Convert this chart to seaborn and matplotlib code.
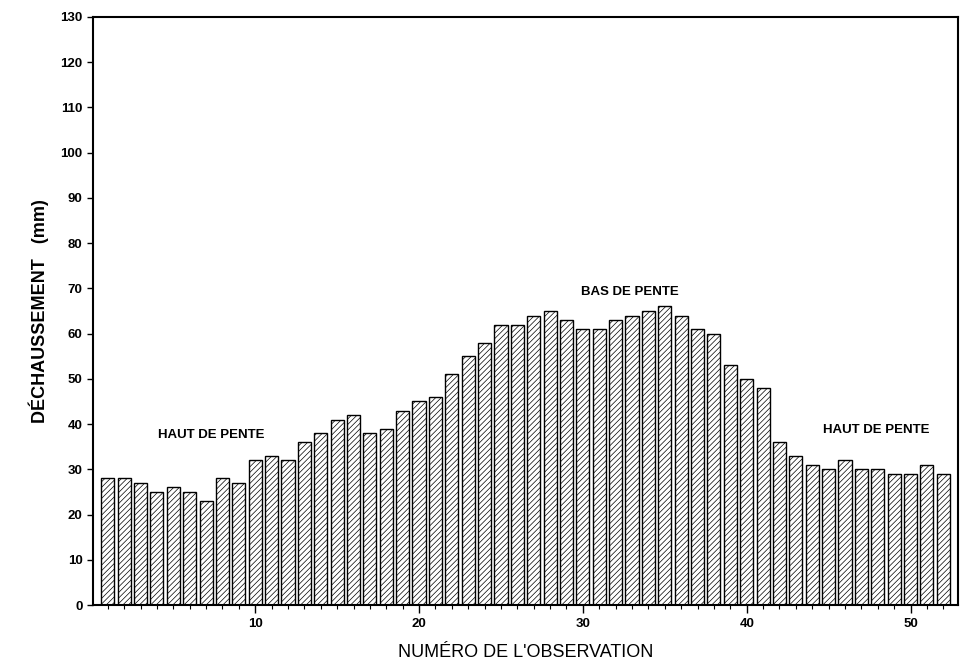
import matplotlib
matplotlib.use("Agg")
import matplotlib.pyplot as plt
import numpy as np
import seaborn as sns
from matplotlib.ticker import MultipleLocator

# numéro de l'observation et déchaussement (mm)
observations = list(range(1, 53))
dechaussement = [28, 28, 27, 25, 26, 25, 23, 28, 27, 32,
                 33, 32, 36, 38, 41, 42, 38, 39, 43, 45,
                 46, 51, 55, 58, 62, 62, 64, 65, 63, 61,
                 61, 63, 64, 65, 66, 64, 61, 60, 53, 50,
                 48, 36, 33, 31, 30, 32, 30, 30, 29, 29,
                 31, 29]

sns.set_style("ticks")
plt.rcParams['font.family'] = ['Liberation Sans', 'DejaVu Sans']
plt.rcParams['hatch.linewidth'] = 0.5
for k in ['text.color', 'axes.labelcolor', 'xtick.color', 'ytick.color', 'axes.edgecolor']:
    plt.rcParams[k] = 'black'

fig = plt.figure(figsize=(9.64, 6.68), dpi=100)
ax = fig.add_axes([0.0965, 0.0943, 0.8973, 0.8803])

sns.barplot(x=observations, y=dechaussement, native_scale=True, width=0.8,
            color='white', edgecolor='black', linewidth=1.0, ax=ax)
for p in ax.patches:
    p.set_hatch('//////')
    p.set_facecolor('white')

ax.set_xlim(0.1, 52.9)
ax.set_ylim(0, 130)
ax.yaxis.set_major_locator(MultipleLocator(10))
ax.xaxis.set_major_locator(MultipleLocator(10))
ax.xaxis.set_minor_locator(MultipleLocator(1))
ax.tick_params(axis='y', labelsize=9.5, width=1, length=4, direction='out')
ax.tick_params(axis='x', which='major', labelsize=9.5, width=1, length=6)
ax.tick_params(axis='x', which='minor', width=0.8, length=3)
for lab in ax.get_yticklabels() + ax.get_xticklabels():
    lab.set_fontweight('bold')
for s in ax.spines.values():
    s.set_visible(True)
    s.set_linewidth(1.5)

ax.set_ylabel("DÉCHAUSSEMENT   (mm)", fontsize=13, fontweight='bold', labelpad=8)
ax.set_xlabel("NUMÉRO DE L'OBSERVATION", fontsize=13, labelpad=10)

ax.text(7.3, 37.6, "HAUT DE PENTE", fontsize=9.5, fontweight='bold', ha='center', va='center')
ax.text(32.9, 69.2, "BAS DE PENTE", fontsize=9.5, fontweight='bold', ha='center', va='center')
ax.text(47.9, 38.7, "HAUT DE PENTE", fontsize=9.5, fontweight='bold', ha='center', va='center')

fig.savefig("out.png", dpi=100)
